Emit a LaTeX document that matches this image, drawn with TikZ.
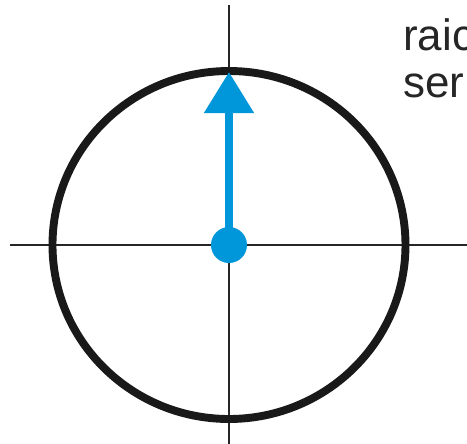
\documentclass[tikz,border=0pt]{standalone}
\usepackage{fontspec}
\setmainfont{Liberation Sans}
\usetikzlibrary{arrows.meta}
\definecolor{vecblue}{RGB}{0,150,218}
\begin{document}
\begin{tikzpicture}[
    axis/.style={draw=black!85, line width=1.1pt},
    unitcircle/.style={draw=black!90, line width=4.5pt},
    vec/.style={draw=vecblue, line width=4.6pt, -{Triangle[length=0.82cm, width=0.96cm]}},
    label/.style={font=\fontsize{25}{26.7}\selectfont, text=black!85, align=left, inner sep=0pt}
]
\clip (-4.58,-3.98) rectangle (4.76,4.90);
\coordinate (west) at (-4.38,0);
\coordinate (east) at (4.76,0);
\coordinate (north) at (0,4.80);
\coordinate (south) at (0,-3.98);
\draw[axis] (west) -- (east);
\draw[axis] (north) -- (south);
\draw[unitcircle] (0,0) circle [x radius=3.53, y radius=3.48];
\node[circle, fill=vecblue, minimum size=0.72cm, inner sep=0pt] (o) at (0,0) {};
\coordinate (tip) at (0,3.46);
\draw[vec] (o.center) -- (tip);
\node[label, anchor=base west] (raic) at (3.48,3.90) {raic};
\node[label, anchor=base west] (ser) at (3.48,2.96) {ser};
\end{tikzpicture}
\end{document}
